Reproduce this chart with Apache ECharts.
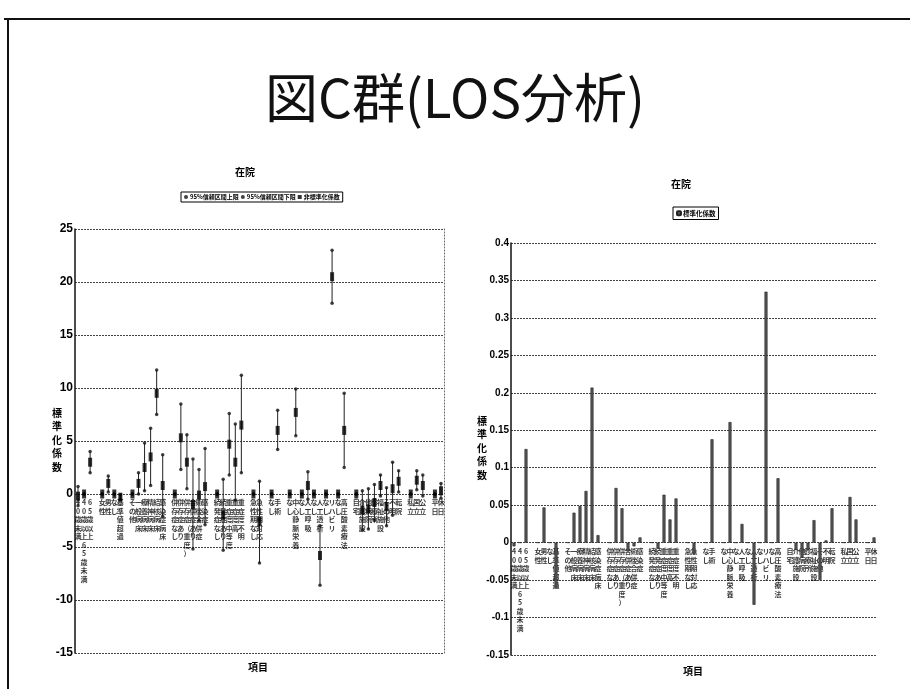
<!DOCTYPE html>
<html>
<head>
<meta charset="utf-8">
<title>図C群(LOS分析)</title>
<script src="https://cdn.jsdelivr.net/npm/echarts@6/dist/echarts.min.js"></script>
<style>
  html, body { margin: 0; padding: 0; background: #fff; }
  #chart { width: 910px; height: 689px; }
</style>
</head>
<body>
<div id="chart"></div>
<script>
// Variables of the length-of-stay regression (blank names are group separators)
const categories = [
  '40歳未満', '40歳以上65歳未満', '65歳以上', '',
  '女性', '男性', 'なし', '基準値超過', '',
  'その他', '一般病床', '療養病床', '精神病床', '結核病床', '感染症病床', '',
  '併存症なし', '併存症あり', '併存症（重度）', '合併症あり', '術後合併症', '感染症', '',
  '続発症なし', '続発症あり', '重症度中等度', '重症度高', '重症度不明', '',
  '急性期なし', '急性期対応', '',
  'なし', '手術', '',
  'なし', '中心静脈栄養', 'なし', '人工呼吸', 'なし', '人工透析',
  'なし', 'リハビリ', 'なし', '高圧酸素療法', '',
  '自宅', '介護施設', '他病院', '診療所', '福祉施設', 'その他', '不明', '転院', '',
  '私立', '国立', '公立', '',
  '平日', '休日'
];

// Unstandardized coefficients with 95% confidence limits (null = separator)
const coef = [
  -0.2, 0, 3.0, null,
  0, 1.0, 0, -0.3, null,
  0, 1.0, 2.5, 3.5, 9.5, 0.8, null,
  0, 5.3, 3.0, -1.0, -0.1, 0.7, null,
  0, -2.0, 4.7, 3.0, 6.5, null,
  0, -2.6, null,
  0, 6.0, null,
  0, 7.7, 0, 0.8, 0, -5.8,
  0, 20.5, 0, 6.0, null,
  0, -1.5, -1.4, -0.8, 0.8, -1.2, 0.5, 1.2, null,
  0, 1.3, 0.8, null,
  0, 0.3
];
const ciLow = [
  -1.1, 0, 2.0, null,
  0, 0.2, 0, -0.5, null,
  0, 0.0, 0.3, 0.8, 7.5, -2.1, null,
  0, 2.3, 0.5, -5.2, -2.5, -2.9, null,
  0, -5.3, 1.8, -0.6, 2.0, null,
  0, -6.5, null,
  0, 4.2, null,
  0, 5.5, 0, -0.5, 0, -8.6,
  0, 18.0, 0, 2.5, null,
  0, -3.4, -3.3, -2.5, -0.2, -3.0, -2.0, 0.2, null,
  0, 0.4, -0.2, null,
  0, -0.4
];
const ciHigh = [
  0.7, 0, 4.0, null,
  0, 1.7, 0, -0.1, null,
  0, 2.0, 4.8, 6.2, 11.7, 3.7, null,
  0, 8.5, 5.6, 3.3, 2.3, 4.3, null,
  0, 1.4, 7.6, 6.6, 11.2, null,
  0, 1.2, null,
  0, 7.9, null,
  0, 9.9, 0, 2.1, 0, -3.0,
  0, 23.0, 0, 9.5, null,
  0, 0.3, 0.5, 0.9, 1.8, 0.6, 3.0, 2.2, null,
  0, 2.2, 1.8, null,
  0, 1.0
];

// Standardized coefficients
const stdCoef = [
  -0.005, 0, 0.125, null,
  0, 0.047, 0, -0.06, null,
  0, 0.04, 0.049, 0.069, 0.207, 0.01, null,
  0, 0.073, 0.046, -0.012, -0.005, 0.007, null,
  0, -0.008, 0.064, 0.031, 0.059, null,
  0, -0.015, null,
  0, 0.138, null,
  0, 0.161, 0, 0.025, 0, -0.083,
  0, 0.335, 0, 0.086, null,
  0, -0.01, -0.02, -0.01, 0.03, -0.05, 0.003, 0.046, null,
  0, 0.061, 0.031, null,
  0, 0.007
];

const legendLeft = ['95%信頼区間上限', '95%信頼区間下限', '非標準化係数'];
const legendRight = ['標準化係数'];
const yName = '標準化係数';
const xName = '項目';
const subTitle = '在院';

const CJK = '"Noto Sans CJK JP", "Noto Sans", sans-serif';
const NUM = '"Liberation Sans Narrow", "Liberation Sans", Arial, sans-serif';

const chart = echarts.init(document.getElementById('chart'), null, { renderer: 'canvas' });

const vertical = s => s.split('').join('\n');

const catAxis = gridIndex => ({
  type: 'category',
  gridIndex,
  data: categories,
  axisLine: { show: false },
  axisTick: { show: false },
  axisLabel: { show: false },
  splitLine: { show: false }
});

// Category names written upright, hanging under the zero line
const nameSeries = (xAxisIndex, yAxisIndex) => ({
  type: 'scatter',
  name: 'names' + xAxisIndex,
  xAxisIndex, yAxisIndex,
  data: categories.map((c, i) => [i, 0]),
  symbolSize: 1,
  itemStyle: { color: 'rgba(0,0,0,0)' },
  silent: true,
  z: 1,
  label: {
    show: true,
    position: 'bottom',
    distance: 4,
    formatter: p => vertical(categories[p.dataIndex]),
    fontSize: 7,
    lineHeight: 8.5,
    color: '#000',
    fontFamily: CJK,
    fontWeight: 'bold'
  },
  labelLayout: { hideOverlap: false }
});

const gridLine = { show: true, lineStyle: { color: '#444', width: 1, type: [2, 1] } };

const ciData = categories.map((c, i) => [i, ciLow[i], ciHigh[i]])
  .filter(d => d[1] != null && d[2] != null);

const textStyleSmall = { fontSize: 10, fontWeight: 'bold', fontFamily: CJK, color: '#000' };

const option = {
  backgroundColor: '#fff',
  animation: false,
  title: [
    { text: '図C群(LOS分析)', left: 'center', top: 71, padding: 0,
      textStyle: { fontSize: 53, fontWeight: 'normal', fontFamily: CJK, color: '#111' } },
    { text: subTitle, left: 245, top: 167, padding: 0, textAlign: 'center', textStyle: textStyleSmall },
    { text: subTitle, left: 681, top: 179, padding: 0, textAlign: 'center', textStyle: textStyleSmall },
    { text: xName, left: 258, top: 662, padding: 0, textAlign: 'center', textStyle: textStyleSmall },
    { text: xName, left: 693, top: 666, padding: 0, textAlign: 'center', textStyle: textStyleSmall },
    { text: vertical(yName), left: 57, top: 406, padding: 0, textAlign: 'center',
      textStyle: Object.assign({ lineHeight: 13.5 }, textStyleSmall) },
    { text: vertical(yName), left: 482, top: 414, padding: 0, textAlign: 'center',
      textStyle: Object.assign({ lineHeight: 13.5 }, textStyleSmall) }
  ],
  legend: [
    {
      data: legendLeft, left: 181, top: 192, itemGap: 2, itemWidth: 4, itemHeight: 4,
      padding: [2, 3], borderColor: '#000', borderWidth: 1,
      textStyle: { fontSize: 6, fontFamily: CJK, fontWeight: 'bold', color: '#000', padding: [0, 0, 0, -3] }
    },
    {
      data: legendRight, left: 673, top: 207, itemGap: 3, itemWidth: 4, itemHeight: 4,
      padding: [3, 3], borderColor: '#000', borderWidth: 1,
      textStyle: { fontSize: 6.5, fontFamily: CJK, fontWeight: 'bold', color: '#000', padding: [0, 0, 0, -3] }
    }
  ],
  grid: [
    { left: 75, right: 466, top: 229, bottom: 36, containLabel: false },
    { left: 511, right: 33, top: 243, bottom: 34, containLabel: false }
  ],
  xAxis: [catAxis(0), catAxis(1)],
  yAxis: [
    {
      type: 'value', gridIndex: 0, min: -15, max: 25, interval: 5,
      axisLine: { show: true, lineStyle: { color: '#111', width: 1.5 } },
      axisTick: { show: false },
      axisLabel: { fontSize: 12, fontWeight: 'bold', color: '#000', fontFamily: NUM, margin: 2 },
      splitLine: gridLine
    },
    {
      type: 'value', gridIndex: 0, min: -15, max: 25, interval: 5, position: 'right',
      axisLine: { show: true, lineStyle: { color: '#666', width: 1, type: [1, 2] } },
      axisTick: { show: false }, axisLabel: { show: false }, splitLine: { show: false }
    },
    {
      type: 'value', gridIndex: 1, min: -0.15, max: 0.4, interval: 0.05,
      axisLine: { show: true, lineStyle: { color: '#111', width: 1.5 } },
      axisTick: { show: false },
      axisLabel: {
        fontSize: 10, fontWeight: 'bold', color: '#000', fontFamily: NUM, margin: 2,
        formatter: v => String(parseFloat(v.toFixed(2)))
      },
      splitLine: gridLine
    }
  ],
  series: [
    nameSeries(0, 0),
    nameSeries(1, 2),
    {
      type: 'custom',
      name: 'ci',
      xAxisIndex: 0, yAxisIndex: 0,
      data: ciData,
      encode: { x: 0, y: [1, 2] },
      silent: true,
      z: 2,
      renderItem: (params, api) => {
        const lo = api.coord([api.value(0), api.value(1)]);
        const hi = api.coord([api.value(0), api.value(2)]);
        return {
          type: 'line',
          shape: { x1: lo[0], y1: lo[1], x2: hi[0], y2: hi[1] },
          style: { stroke: '#222', lineWidth: 1 }
        };
      }
    },
    {
      type: 'scatter', name: legendLeft[0], xAxisIndex: 0, yAxisIndex: 0,
      data: ciHigh, symbol: 'circle', symbolSize: 3.5, z: 3,
      itemStyle: { color: '#111' }
    },
    {
      type: 'scatter', name: legendLeft[1], xAxisIndex: 0, yAxisIndex: 0,
      data: ciLow, symbol: 'circle', symbolSize: 3.5, z: 3,
      itemStyle: { color: '#111' }
    },
    {
      type: 'scatter', name: legendLeft[2], xAxisIndex: 0, yAxisIndex: 0,
      data: coef, symbol: 'rect', symbolSize: [4, 9], z: 4,
      itemStyle: { color: '#000' }
    },
    {
      type: 'bar', name: legendRight[0], xAxisIndex: 1, yAxisIndex: 2,
      data: stdCoef, barWidth: 3,
      itemStyle: { color: '#555', borderColor: '#222', borderWidth: 0.6 }
    }
  ],
  graphic: [
    { type: 'line', shape: { x1: 4, y1: 19, x2: 910, y2: 19 }, style: { stroke: '#111', lineWidth: 2 } },
    { type: 'line', shape: { x1: 8, y1: 19, x2: 8, y2: 689 }, style: { stroke: '#111', lineWidth: 2 } }
  ]
};

chart.setOption(option);
</script>
</body>
</html>
